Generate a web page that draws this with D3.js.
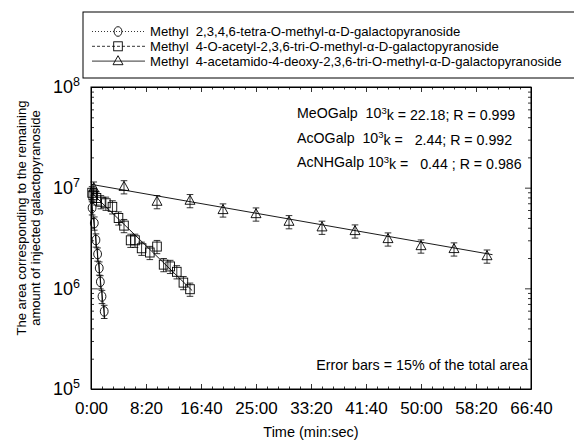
<!DOCTYPE html>
<html>
<head>
<meta charset="utf-8">
<script src="https://cdn.jsdelivr.net/npm/d3@7/dist/d3.min.js"></script>
<style>
  body { margin: 0; background: #fff; }
  svg { display: block; font-family: "Liberation Sans", Arial, Helvetica, sans-serif; }
  .domain { stroke: #000; stroke-width: 1; }
  .tick line { stroke: #000; stroke-width: 0.8; }
</style>
</head>
<body>
<svg id="chart" width="574" height="444"></svg>
<script>
// Data: time in seconds, area in counts

// Methyl 2,3,4,6-tetra-O-methyl (circles)
const meoTimes = [10, 30, 45, 60, 75, 85, 100, 120];
const meoAreas = [6.3e6, 4.45e6, 3.02e6, 2.19e6, 1.59e6, 1.16e6, 8.3e5, 5.9e5];

// Methyl 4-O-acetyl (squares)
const acoTimes = [10, 20, 50, 90, 135, 195, 250, 300, 360, 400, 460, 535, 600, 660, 720, 780, 840, 900];
const acoAreas = [8.9e6, 8.4e6, 7.9e6, 7.25e6, 7.0e6, 6.45e6, 5.0e6, 4.2e6, 3.0e6, 3.0e6, 2.5e6, 2.27e6, 2.6e6, 1.72e6, 1.65e6, 1.46e6, 1.14e6, 9.8e5];

// Methyl 4-acetamido-4-deoxy (triangles)
const acnTimes = [25, 300, 600, 900, 1200, 1500, 1800, 2100, 2400, 2700, 3000, 3300, 3600];
const acnAreas = [9.9e6, 1.02e7, 7.26e6, 7.43e6, 6.0e6, 5.47e6, 4.59e6, 4.04e6, 3.71e6, 3.09e6, 2.63e6, 2.46e6, 2.09e6];

// Fitted lines, start and end
const meoFit = [[0, 8.0e6], [125, 5.0e5]];
const acoFit = [[0, 9.0e6], [920, 9.5e5]];
const acnFit = [[0, 1.08e7], [3650, 2.16e6]];

const legendLabels = [
  'Methyl  2,3,4,6-tetra-O-methyl-\u03B1-D-galactopyranoside',
  'Methyl  4-O-acetyl-2,3,6-tri-O-methyl-\u03B1-D-galactopyranoside',
  'Methyl  4-acetamido-4-deoxy-2,3,6-tri-O-methyl-\u03B1-D-galactopyranoside'
];
const statNames = ['MeOGalp', 'AcOGalp', 'AcNHGalp'];
const statK = ['  10', '  10', ' 10'];
const statRest = ['k = 22.18; R = 0.999', 'k =   2.44; R = 0.992', 'k =   0.44 ; R = 0.986'];

const xMajor = d3.range(0, 4001, 500);
const yMajor = [1e5, 1e6, 1e7, 1e8];
const errorFrac = 0.15;

/*------------------------------------------------------*/

const svg = d3.select('#chart');
const plot = { left: 91, right: 531, top: 87, bottom: 389 };

const x = d3.scaleLinear().domain([0, 4000]).range([plot.left, plot.right]);
const y = d3.scaleLog().domain([1e5, 1e8]).range([plot.bottom, plot.top]);

// seconds -> m:ss
const fmtTime = (s) => Math.floor(s / 60) + ':' + String(s % 60).padStart(2, '0');

const xMinor = d3.range(0, 4001, 100).filter((d) => d % 500 !== 0);
const yMinor = [];
[1e5, 1e6, 1e7].forEach((dec) => {
  for (let m = 2; m <= 9; m++) yMinor.push(m * dec);
});

// Frame
svg.append('rect')
  .attr('x', plot.left).attr('y', plot.top)
  .attr('width', plot.right - plot.left).attr('height', plot.bottom - plot.top)
  .attr('fill', 'none').attr('stroke', '#000').attr('stroke-width', 1);

// Bottom axis
const xAxisG = svg.append('g')
  .attr('transform', `translate(0,${plot.bottom})`)
  .call(d3.axisBottom(x).tickValues(xMajor).tickSizeInner(-5).tickSizeOuter(0)
    .tickPadding(13).tickFormat(fmtTime));
xAxisG.selectAll('.tick text')
  .attr('font-size', 17).attr('fill', '#000');
svg.append('g')
  .attr('transform', `translate(0,${plot.bottom})`)
  .call(d3.axisBottom(x).tickValues(xMinor).tickSizeInner(-2.5).tickSizeOuter(0).tickFormat(''))
  .select('.domain').remove();

// Top axis
svg.append('g')
  .attr('transform', `translate(0,${plot.top})`)
  .call(d3.axisTop(x).tickValues(xMajor).tickSizeInner(-5).tickSizeOuter(0).tickFormat(''));
svg.append('g')
  .attr('transform', `translate(0,${plot.top})`)
  .call(d3.axisTop(x).tickValues(xMinor).tickSizeInner(-2.5).tickSizeOuter(0).tickFormat(''))
  .select('.domain').remove();

// Left axis
const yAxisG = svg.append('g')
  .attr('transform', `translate(${plot.left},0)`)
  .call(d3.axisLeft(y).tickValues(yMajor).tickSizeInner(-6).tickSizeOuter(0)
    .tickPadding(11).tickFormat(''));
yAxisG.selectAll('.tick text')
  .attr('font-size', 18).attr('fill', '#000')
  .each(function (d) {
    const t = d3.select(this);
    t.append('tspan').text('10');
    t.append('tspan').attr('dy', '-0.55em').attr('font-size', 12.5)
      .text(Math.round(Math.log10(d)));
  });
svg.append('g')
  .attr('transform', `translate(${plot.left},0)`)
  .call(d3.axisLeft(y).tickValues(yMinor).tickSizeInner(-3).tickSizeOuter(0).tickFormat(''))
  .select('.domain').remove();

// Right axis
svg.append('g')
  .attr('transform', `translate(${plot.right},0)`)
  .call(d3.axisRight(y).tickValues(yMajor).tickSizeInner(-6).tickSizeOuter(0).tickFormat(''));
svg.append('g')
  .attr('transform', `translate(${plot.right},0)`)
  .call(d3.axisRight(y).tickValues(yMinor).tickSizeInner(-3).tickSizeOuter(0).tickFormat(''))
  .select('.domain').remove();

// Axis titles
svg.append('text')
  .attr('x', (plot.left + plot.right) / 2).attr('y', 437)
  .attr('text-anchor', 'middle').attr('font-size', 14.5)
  .text('Time (min:sec)');

const yTitle = svg.append('text')
  .attr('transform', 'translate(26,218) rotate(-90)')
  .attr('text-anchor', 'middle').attr('font-size', 13);
yTitle.append('tspan').attr('x', 0).attr('dy', 0).text('The area corresponding to the remaining');
yTitle.append('tspan').attr('x', 0).attr('dy', 13.5).text('amount of injected galactopyranoside');

/*------------------------------------------------------*/

// Marker shapes
function drawMarker(g, shape) {
  if (shape === 'circle') {
    g.append('ellipse').attr('rx', 3.9).attr('ry', 4.8);
  } else if (shape === 'square') {
    g.append('rect').attr('x', -4.3).attr('y', -4.5).attr('width', 8.6).attr('height', 9);
  } else {
    g.append('path').attr('d', 'M0,-5.4L5,3.6L-5,3.6Z');
  }
  g.selectAll('ellipse,rect,path')
    .attr('fill', 'none').attr('stroke', '#000').attr('stroke-width', 0.9);
}

const line = d3.line().x((d) => x(d[0])).y((d) => y(d[1]));

function drawSeries(times, areas, fit, shape) {
  const pts = times.map((t, i) => ({ t: t, v: areas[i] }));

  svg.append('path')
    .datum(fit)
    .attr('d', line)
    .attr('fill', 'none').attr('stroke', '#000').attr('stroke-width', 0.9);

  const g = svg.append('g');
  const pt = g.selectAll('g').data(pts).enter().append('g');

  // Error bars
  pt.append('line')
    .attr('x1', (d) => x(d.t)).attr('x2', (d) => x(d.t))
    .attr('y1', (d) => y(d.v * (1 - errorFrac))).attr('y2', (d) => y(d.v * (1 + errorFrac)))
    .attr('stroke', '#000').attr('stroke-width', 0.8);
  [1 - errorFrac, 1 + errorFrac].forEach((f) => {
    pt.append('line')
      .attr('x1', (d) => x(d.t) - 3.3).attr('x2', (d) => x(d.t) + 3.3)
      .attr('y1', (d) => y(d.v * f)).attr('y2', (d) => y(d.v * f))
      .attr('stroke', '#000').attr('stroke-width', 0.8);
  });

  pt.each(function (d) {
    const m = d3.select(this).append('g')
      .attr('transform', `translate(${x(d.t)},${y(d.v)})`);
    drawMarker(m, shape);
  });
}

drawSeries(acnTimes, acnAreas, acnFit, 'triangle');
drawSeries(acoTimes, acoAreas, acoFit, 'square');
drawSeries(meoTimes, meoAreas, meoFit, 'circle');

/*------------------------------------------------------*/

// Fit statistics
const stats = svg.append('g');
statNames.forEach((name, i) => {
  const t = stats.append('text')
    .attr('x', 297).attr('y', 118 + i * 24.5)
    .attr('font-size', 14.2).attr('xml:space', 'preserve');
  t.append('tspan').text(name + statK[i]);
  t.append('tspan').attr('dy', '-0.45em').attr('font-size', 9.5).text('3');
  t.append('tspan').attr('dy', '0.45em').text(statRest[i]);
});

svg.append('text')
  .attr('x', 528).attr('y', 370)
  .attr('text-anchor', 'end').attr('font-size', 14.3)
  .text('Error bars = 15% of the total area');

// Legend
const legend = svg.append('g');
legend.append('rect')
  .attr('x', 83).attr('y', 12).attr('width', 500).attr('height', 66)
  .attr('fill', '#fff').attr('stroke', '#000').attr('stroke-width', 1);

const legendShapes = ['circle', 'square', 'triangle'];
const legendDash = ['1,2', '3,2', null];
legendLabels.forEach((label, i) => {
  const cy = 31.5 + i * 14.8;
  legend.append('line')
    .attr('x1', 92).attr('x2', 145).attr('y1', cy).attr('y2', cy)
    .attr('stroke', '#000').attr('stroke-width', 0.8)
    .attr('stroke-dasharray', legendDash[i]);
  const m = legend.append('g').attr('transform', `translate(118,${cy})`);
  drawMarker(m, legendShapes[i]);
  legend.append('text')
    .attr('x', 150).attr('y', cy + 4.6)
    .attr('font-size', 13.1).attr('xml:space', 'preserve')
    .text(label);
});
</script>
</body>
</html>
